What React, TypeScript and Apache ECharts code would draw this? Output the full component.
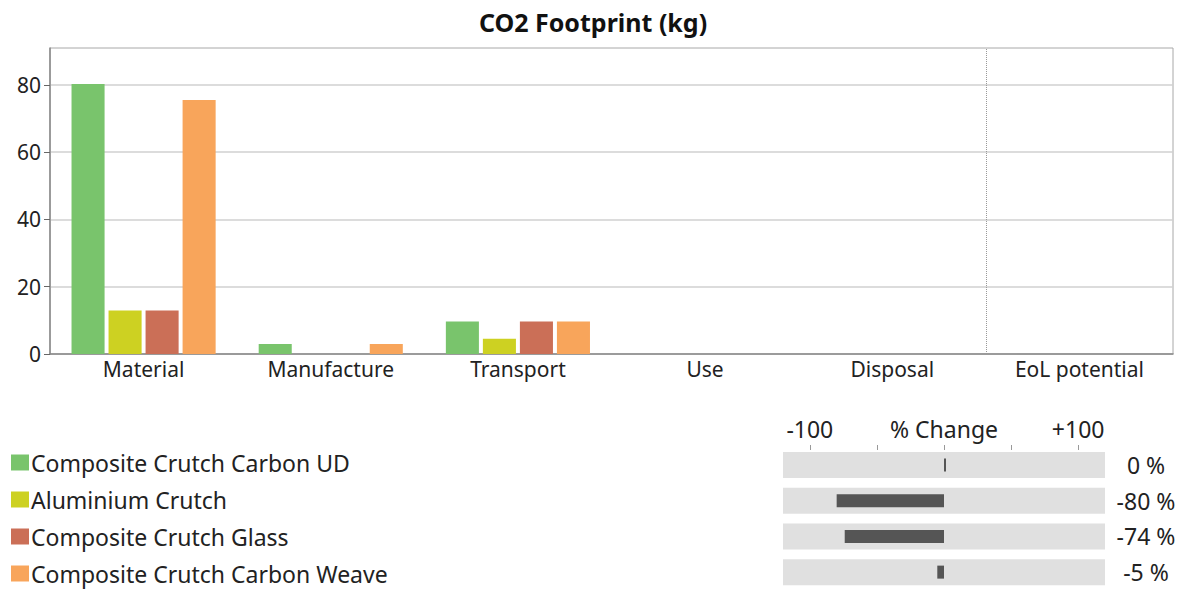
import React, { useEffect, useRef } from "react";
import * as echarts from "echarts";

const categories = ["Material", "Manufacture", "Transport", "Use", "Disposal", "EoL potential"];
const seriesNames = [
  "Composite Crutch Carbon UD",
  "Aluminium Crutch",
  "Composite Crutch Glass",
  "Composite Crutch Carbon Weave",
];
const carbonUD = [80.3, 3.0, 9.7, 0, 0, 0];
const aluminium = [12.9, 0, 4.5, 0, 0, 0];
const glass = [12.9, 0, 9.7, 0, 0, 0];
const carbonWeave = [75.5, 3.0, 9.7, 0, 0, 0];
const colors = ["#79C46C", "#CDD122", "#CB6F57", "#F8A55B"];
const yTicks = [0, 20, 40, 60, 80];
const pctChange = [0, -80, -74, -5];
const pctTicks = [-100, -50, 0, 50, 100];
const pctLabels = [-100, 0, 100];
const eolSeparatorIndex = 5;

const FONT = "Noto Sans";

export default function App() {
  const ref = useRef<HTMLDivElement>(null);
  useEffect(() => {
    if (!ref.current) return;
    const chart = echarts.init(ref.current, null, { renderer: "svg" });
    const allSeries = [carbonUD, aluminium, glass, carbonWeave];
    chart.setOption({
      animation: false,
      textStyle: { fontFamily: FONT },
      title: {
        text: "CO2 Footprint (kg)",
        left: "center",
        top: 4,
        textStyle: { fontSize: 25, fontWeight: "bold", color: "#111", fontFamily: FONT },
      },
      legend: {
        orient: "vertical",
        left: 6,
        top: 446,
        height: 144,
        itemWidth: 18,
        itemHeight: 16,
        itemGap: 14,
        icon: "rect",
        data: seriesNames,
        textStyle: { fontSize: 23, color: "#222", fontFamily: FONT, padding: [0, 0, 0, -3] },
      },
      grid: [
        { left: 50, right: 13, top: 48, bottom: 236, show: true, borderColor: "#a8a8a8", borderWidth: 1 },
        { left: 783, width: 322, top: 447, height: 146 },
      ],
      xAxis: [
        {
          gridIndex: 0,
          type: "category",
          data: categories,
          axisLine: { lineStyle: { color: "#888", width: 1.5 } },
          axisTick: { show: false },
          axisLabel: { fontSize: 21, color: "#222", margin: 4, fontFamily: FONT },
        },
        {
          gridIndex: 1,
          type: "value",
          min: -120,
          max: 120,
          position: "top",
          offset: 2,
          axisLine: { show: false },
          splitLine: { show: false },
          axisTick: {
            show: true,
            inside: true,
            length: 5,
            customValues: pctTicks,
            lineStyle: { color: "#999", width: 1 },
          },
          axisLabel: {
            customValues: pctLabels,
            fontSize: 23,
            color: "#222",
            margin: 5,
            fontFamily: FONT,
            formatter: (v: number) => (v === 0 ? "% Change" : v > 0 ? "+" + v : String(v)),
          },
        },
        {
          gridIndex: 0,
          type: "value",
          min: 0,
          max: categories.length,
          show: false,
        },
      ],
      yAxis: [
        {
          gridIndex: 0,
          type: "value",
          min: 0,
          max: 91,
          interval: 20,
          axisLine: { show: true, lineStyle: { color: "#888", width: 1.5 } },
          axisTick: { show: true, length: 6, customValues: yTicks, lineStyle: { color: "#666" } },
          axisLabel: { customValues: yTicks, fontSize: 21, color: "#222", margin: 9, fontFamily: FONT },
          splitLine: { show: true, lineStyle: { color: "#d0d0d0", width: 1.5 } },
        },
        {
          gridIndex: 1,
          type: "category",
          inverse: true,
          data: seriesNames,
          show: false,
        },
        {
          gridIndex: 1,
          type: "category",
          inverse: true,
          data: seriesNames,
          show: false,
        },
        {
          gridIndex: 1,
          type: "category",
          inverse: true,
          position: "right",
          data: pctChange.map((v) => `${v} %`),
          axisLine: { show: false },
          axisTick: { show: false },
          axisLabel: { fontSize: 23, color: "#222", margin: 41, align: "center", fontFamily: FONT },
        },
      ],
      series: [
        ...allSeries.map((d, i) => ({
          name: seriesNames[i],
          type: "bar",
          xAxisIndex: 0,
          yAxisIndex: 0,
          data: d,
          barCategoryGap: "23%",
          barGap: "12%",
          itemStyle: { color: colors[i] },
        })),
        {
          name: "separator",
          type: "line",
          xAxisIndex: 2,
          yAxisIndex: 0,
          data: [],
          silent: true,
          markLine: {
            symbol: "none",
            label: { show: false },
            lineStyle: { type: "dotted", color: "#999", width: 1 },
            data: [{ xAxis: eolSeparatorIndex }],
          },
        },
        {
          name: "bg",
          type: "bar",
          xAxisIndex: 1,
          yAxisIndex: 1,
          data: pctChange.map(() => 0),
          barWidth: 26,
          showBackground: true,
          backgroundStyle: { color: "#e0e0e0" },
          itemStyle: { color: "#e0e0e0" },
        },
        {
          name: "pct",
          type: "bar",
          xAxisIndex: 1,
          yAxisIndex: 2,
          data: pctChange,
          barWidth: 13,
          barMinHeight: 2,
          itemStyle: { color: "#555555" },
        },
      ],
    });
    return () => chart.dispose();
  }, []);
  return <div ref={ref} style={{ width: 1186, height: 590, position: "absolute", left: 0, top: 0 }} />;
}
